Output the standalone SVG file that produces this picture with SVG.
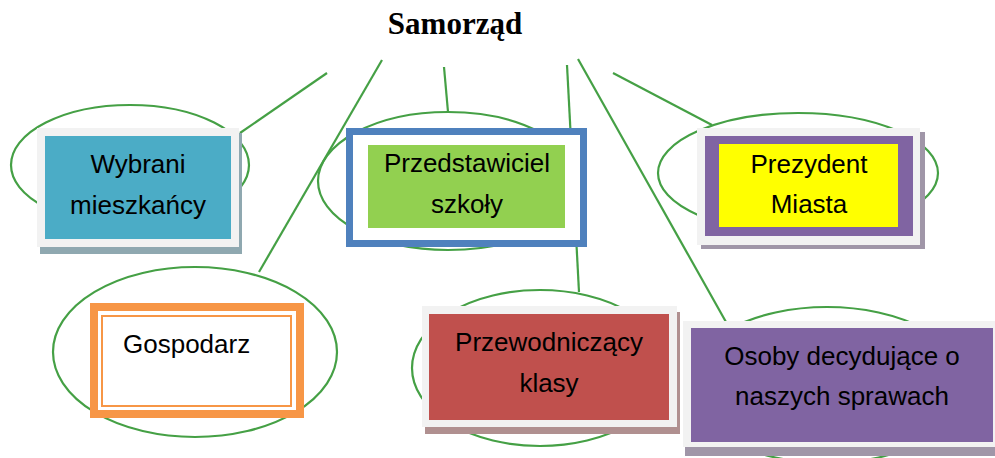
<svg xmlns="http://www.w3.org/2000/svg" width="995" height="458" viewBox="0 0 995 458">
<style>
.c{fill:none;stroke:#45A045;stroke-width:2.2}
.t{font-family:"Liberation Sans",Arial,sans-serif;font-size:26px;fill:#000;text-anchor:middle}
.fr{fill:#F2F2F2}
</style>
<rect width="995" height="458" fill="#fff"/>
<text x="455" y="34" font-family="Liberation Serif,Times New Roman,serif" font-weight="bold" font-size="31" text-anchor="middle">Samorząd</text>
<g id="connectors">
<line class="c" x1="327" y1="73" x2="240" y2="133"/>
<line class="c" x1="382" y1="60" x2="259" y2="272"/>
<line class="c" x1="444" y1="67" x2="448" y2="112"/>
<line class="c" x1="567" y1="65" x2="579" y2="292"/>
<line class="c" x1="578" y1="59" x2="726" y2="322"/>
<line class="c" x1="613" y1="73" x2="712" y2="125"/>
</g>
<g id="ellipses">
<ellipse class="c" cx="130" cy="165" rx="119" ry="60"/>
<ellipse class="c" cx="448" cy="181" rx="130" ry="69"/>
<ellipse class="c" cx="798" cy="173" rx="140" ry="60"/>
<ellipse class="c" cx="195" cy="352" rx="142" ry="85"/>
<ellipse class="c" cx="540" cy="368" rx="128" ry="78"/>
<ellipse class="c" cx="827" cy="385" rx="140" ry="78"/>
</g>
<g id="wybrani">
<rect x="40" y="133" width="202" height="121" fill="#8FA8B0"/>
<rect class="fr" x="37" y="128" width="202" height="119"/>
<rect x="45" y="136" width="186" height="103" fill="#4BACC6"/>
<text class="t" x="138" y="173">Wybrani</text>
<text class="t" x="138" y="214">mieszkańcy</text>
</g>
<g id="przedstawiciel">
<rect x="349.5" y="131.5" width="234" height="112" fill="#fff" stroke="#4F81BD" stroke-width="7"/>
<rect x="368" y="145" width="197" height="83" fill="#92D050"/>
<text class="t" x="467" y="172">Przedstawiciel</text>
<text class="t" x="467" y="213">szkoły</text>
</g>
<g id="prezydent">
<rect x="701" y="132" width="224" height="117" fill="#A096A8"/>
<rect class="fr" x="697" y="128" width="223" height="117"/>
<rect x="705" y="136" width="208" height="100" fill="#8064A2"/>
<rect x="719" y="144" width="179" height="83" fill="#FFFF00"/>
<text class="t" x="809" y="173">Prezydent</text>
<text class="t" x="809" y="213">Miasta</text>
</g>
<g id="gospodarz">
<rect x="94" y="307" width="206" height="107" fill="#fff" stroke="#F79646" stroke-width="8"/>
<rect x="102" y="316" width="189" height="90" fill="none" stroke="#F79646" stroke-width="2"/>
<text class="t" x="123" y="353" style="text-anchor:start">Gospodarz</text>
</g>
<g id="przewodniczacy">
<rect x="425" y="312" width="255" height="122" fill="#B09090"/>
<rect class="fr" x="422" y="306" width="255" height="121"/>
<rect x="429" y="314" width="240" height="106" fill="#C0504D"/>
<text class="t" x="549" y="351">Przewodniczący</text>
<text class="t" x="549" y="392">klasy</text>
</g>
<g id="osoby">
<rect x="685" y="327" width="320" height="129" fill="#A096A8"/>
<rect class="fr" x="683" y="321" width="320" height="126"/>
<rect x="691" y="328" width="302" height="114" fill="#8064A2"/>
<text class="t" x="842" y="365">Osoby decydujące o</text>
<text class="t" x="842" y="405">naszych sprawach</text>
</g>
</svg>
